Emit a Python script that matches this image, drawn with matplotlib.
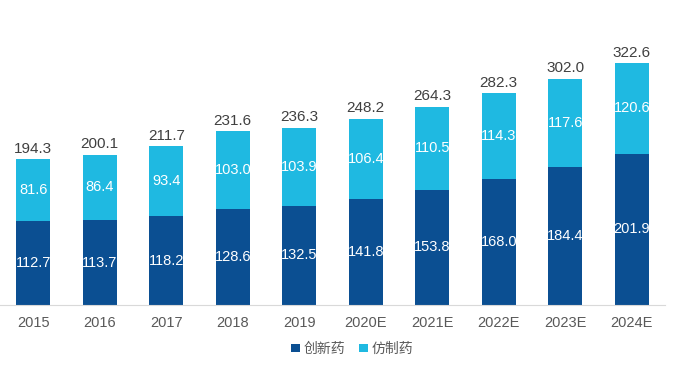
import matplotlib.pyplot as plt
import numpy as np

plt.rcParams['font.family'] = ['Liberation Sans', 'Noto Sans CJK SC', 'DejaVu Sans']

years = ["2015", "2016", "2017", "2018", "2019", "2020E", "2021E", "2022E", "2023E", "2024E"]
innovative = [112.7, 113.7, 118.2, 128.6, 132.5, 141.8, 153.8, 168.0, 184.4, 201.9]
generic = [81.6, 86.4, 93.4, 103.0, 103.9, 106.4, 110.5, 114.3, 117.6, 120.6]
totals = [194.3, 200.1, 211.7, 231.6, 236.3, 248.2, 264.3, 282.3, 302.0, 322.6]

dark = "#0b4f92"
light = "#1fb9e1"

fig = plt.figure(figsize=(7, 3.8), dpi=100)
ax = fig.add_axes([0.0, 0.197, 0.95, 0.75])

x = np.arange(len(years))
w = 0.51
ax.bar(x, innovative, w, color=dark, label="创新药")
ax.bar(x, generic, w, bottom=innovative, color=light, label="仿制药")

for i in range(len(years)):
    ax.text(x[i], innovative[i] / 2, "%.1f" % innovative[i], ha="center", va="center",
            color="white", fontsize=10.5)
    ax.text(x[i], innovative[i] + generic[i] / 2, "%.1f" % generic[i], ha="center", va="center",
            color="white", fontsize=10.5)
    ax.text(x[i], innovative[i] + generic[i] + 5, "%.1f" % totals[i], ha="center", va="bottom",
            color="#404040", fontsize=11)

ax.set_xlim(-0.5, len(years) - 0.5)
ax.set_ylim(0, 380)
ax.set_xticks(x)
ax.set_xticklabels(years, color="#595959", fontsize=10.5)
ax.tick_params(axis="x", length=0, pad=8)
ax.set_yticks([])
for s in ["top", "right", "left"]:
    ax.spines[s].set_visible(False)
ax.spines["bottom"].set_color("#d9d9d9")

ax.legend(loc="upper center", bbox_to_anchor=(0.53, -0.085), ncol=2, frameon=False,
          handlelength=0.6, handleheight=0.6, handletextpad=0.3, columnspacing=1.0,
          fontsize=10, labelcolor="#595959")

fig.savefig("out.png", dpi=100)
